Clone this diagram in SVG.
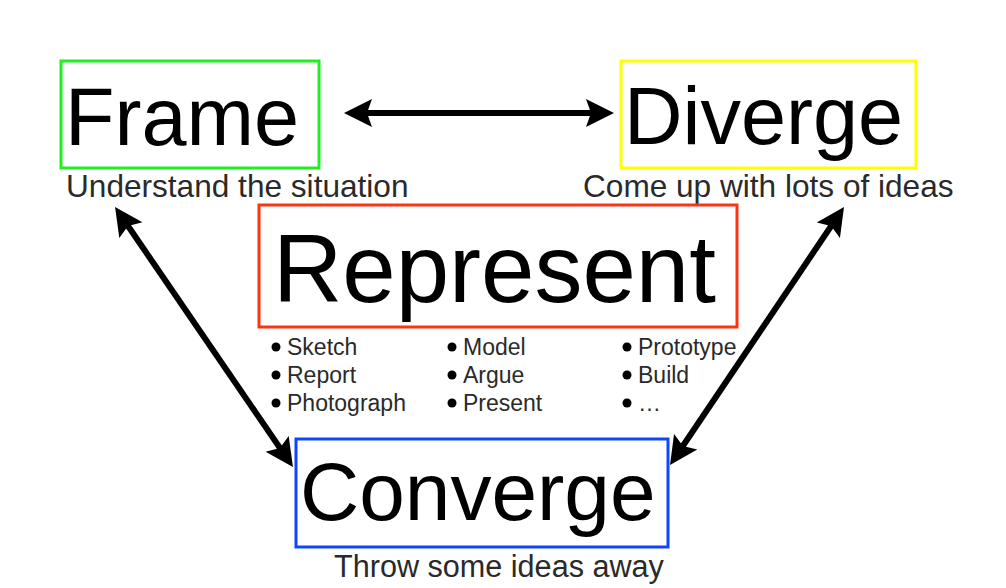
<svg xmlns="http://www.w3.org/2000/svg" width="1006" height="588" viewBox="0 0 1006 588">
<style>
  .box{fill:none;stroke-width:3}
  .title{font-family:"Liberation Sans",Arial,sans-serif;fill:#000}
  .sub{font-family:"Liberation Sans",Arial,sans-serif;font-size:31.6px;fill:#2a2a2a}
  .item{font-family:"Liberation Sans",Arial,sans-serif;font-size:23px;fill:#2a2a2a}
  .dot{fill:#000}
  .conn{stroke:#000;stroke-width:6;fill:none;marker-start:url(#head);marker-end:url(#head)}
</style>
<defs>
  <marker id="head" markerUnits="userSpaceOnUse" orient="auto-start-reverse" refX="0" refY="0" markerWidth="40" markerHeight="40" overflow="visible">
    <path d="M10,0 L-18,-14 L-13,0 L-18,14 Z" fill="#000"/>
  </marker>
</defs>
<rect width="1006" height="588" fill="#fff"/>
<g id="connectors">
  <path class="conn" d="M354,113 L604,113"/>
  <path class="conn" d="M120.7,215.3 L287.3,458.7"/>
  <path class="conn" d="M838.4,215.3 L675.6,456.7"/>
</g>
<g id="frame">
  <rect class="box" x="61" y="61" width="258" height="107" stroke="#22ee22"/>
  <text class="title" x="65" y="145" font-size="81">Frame</text>
  <text class="sub" x="66" y="197">Understand the situation</text>
</g>
<g id="diverge">
  <rect class="box" x="621" y="61" width="295" height="107" stroke="#ffff00"/>
  <text class="title" x="624" y="144" font-size="81">Diverge</text>
  <text class="sub" x="583" y="197">Come up with lots of ideas</text>
</g>
<g id="represent">
  <rect class="box" x="259" y="205" width="478" height="122" stroke="#ff3311"/>
  <text class="title" x="273" y="302" font-size="96">Represent</text>
  <g class="dot">
    <circle cx="276" cy="347" r="4.5"/><circle cx="276" cy="375" r="4.5"/><circle cx="276" cy="403" r="4.5"/>
    <circle cx="452" cy="347" r="4.5"/><circle cx="452" cy="375" r="4.5"/><circle cx="452" cy="403" r="4.5"/>
    <circle cx="627" cy="347" r="4.5"/><circle cx="627" cy="375" r="4.5"/><circle cx="627" cy="403" r="4.5"/>
  </g>
  <text class="item" x="287" y="355">Sketch</text>
  <text class="item" x="287" y="383">Report</text>
  <text class="item" x="287" y="411">Photograph</text>
  <text class="item" x="463" y="355">Model</text>
  <text class="item" x="463" y="383">Argue</text>
  <text class="item" x="463" y="411">Present</text>
  <text class="item" x="638" y="355">Prototype</text>
  <text class="item" x="638" y="383">Build</text>
  <text class="item" x="638" y="411">…</text>
</g>
<g id="converge">
  <rect class="box" x="296" y="439" width="372" height="108" stroke="#1144ff"/>
  <text class="title" x="300" y="520" font-size="82">Converge</text>
  <text class="sub" x="334" y="577" style="font-size:30.6px">Throw some ideas away</text>
</g>
</svg>
